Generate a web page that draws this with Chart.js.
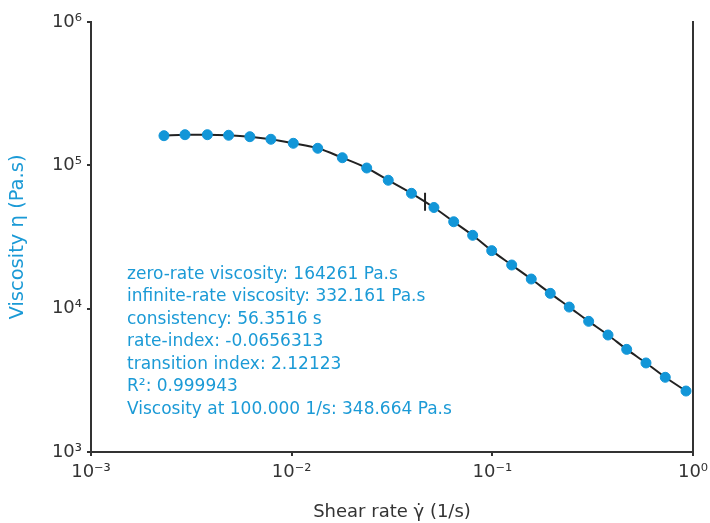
<!DOCTYPE html>
<html><head><meta charset="utf-8">
<script src="https://cdn.jsdelivr.net/npm/chart.js@4"></script>
<style>html,body{margin:0;padding:0;background:#fff}#wrap{width:710px;height:523px}</style>
</head><body><div id="wrap"><canvas id="c" width="710" height="523"></canvas></div>
<script>
const shearRate = [0.00231,0.00294,0.00380,0.00485,0.00619,0.00788,0.01019,0.01349,0.01788,0.02366,0.03029,0.03953,0.05117,0.06418,0.07980,0.09928,0.1249,0.1563,0.1944,0.2417,0.302,0.3771,0.4673,0.5831,0.7275,0.9229];
const viscosity = [161000,163600,163600,162100,158400,152000,142500,131500,113000,95800,78700,63800,50800,40400,32500,25400,20170,16100,12790,10260,8160,6550,5200,4180,3320,2663];
const markerRate = [0.0462];
const markerViscosity = [55700];
const xTickValues = [0.001,0.01,0.1,1];
const xTickLabels = ['10⁻³','10⁻²','10⁻¹','10⁰'];
const yTickValues = [1e3,1e4,1e5,1e6];
const yTickLabels = ['10³','10⁴','10⁵','10⁶'];
const fitText = [
  'zero-rate viscosity: 164261 Pa.s',
  'infinite-rate viscosity: 332.161 Pa.s',
  'consistency: 56.3516 s',
  'rate-index: -0.0656313',
  'transition index: 2.12123',
  'R²: 0.999943',
  'Viscosity at 100.000 1/s: 348.664 Pa.s'
];

const FONT = '"DejaVu Sans", sans-serif';
const BLUE = '#1296d8';
const TEXTBLUE = '#1b9ad6';
const DARK = '#333333';

const textPlugin = {
  id: 'fitText',
  afterDatasetsDraw(chart) {
    const ctx = chart.ctx;
    ctx.save();
    ctx.fillStyle = TEXTBLUE;
    ctx.font = '17px ' + FONT;
    ctx.textAlign = 'left';
    ctx.textBaseline = 'alphabetic';
    fitText.forEach((t, i) => ctx.fillText(t, 127, 278.5 + i * 22.5));
    ctx.restore();
  }
};

new Chart(document.getElementById('c'), {
  type: 'scatter',
  data: {
    datasets: [
      {
        data: shearRate.map((x, i) => ({x, y: viscosity[i]})),
        showLine: true,
        borderColor: '#222',
        borderWidth: 2,
        cubicInterpolationMode: 'monotone',
        pointRadius: 5,
        pointHoverRadius: 5,
        pointBackgroundColor: BLUE,
        pointBorderColor: BLUE,
        pointBorderWidth: 1,
        order: 2
      },
      {
        data: markerRate.map((x, i) => ({x, y: markerViscosity[i]})),
        showLine: false,
        pointStyle: 'line',
        rotation: 90,
        pointRadius: 9,
        borderColor: '#222',
        pointBorderColor: '#222',
        pointBorderWidth: 2,
        order: 1
      }
    ]
  },
  options: {
    responsive: false,
    animation: false,
    devicePixelRatio: 1,
    layout: { padding: { left: 0, right: 0, top: 22, bottom: 0 } },
    plugins: { legend: { display: false }, tooltip: { enabled: false } },
    scales: {
      x: {
        type: 'logarithmic', min: 0.001, max: 1,
        afterBuildTicks: s => { s.ticks = xTickValues.map(v => ({value: v})); },
        afterFit: s => { s.height = 71; s.paddingLeft = 0; s.paddingRight = 0; },
        ticks: {
          color: DARK, font: { family: FONT, size: 18 }, padding: 6, maxRotation: 0, autoSkip: false,
          callback: (v) => { const i = xTickValues.indexOf(v); return i >= 0 ? xTickLabels[i] : ''; }
        },
        grid: { drawOnChartArea: false, drawTicks: true, tickLength: 4, color: DARK, lineWidth: 2 },
        border: { display: true, color: DARK, width: 2 },
        title: { display: true, text: 'Shear rate γ̇ (1/s)', color: DARK, font: { family: FONT, size: 18 }, padding: { top: 0, bottom: 0 } }
      },
      y: {
        type: 'logarithmic', min: 1000, max: 1000000,
        afterBuildTicks: s => { s.ticks = yTickValues.map(v => ({value: v})); },
        afterFit: s => { s.width = 91; s.paddingTop = 0; s.paddingBottom = 0; },
        ticks: {
          color: DARK, font: { family: FONT, size: 18 }, padding: 5, autoSkip: false,
          callback: (v) => { const i = yTickValues.indexOf(v); return i >= 0 ? yTickLabels[i] : ''; }
        },
        grid: { drawOnChartArea: false, drawTicks: true, tickLength: 4, color: DARK, lineWidth: 2 },
        border: { display: true, color: DARK, width: 2 },
        title: { display: true, text: 'Viscosity η (Pa.s)', color: TEXTBLUE, font: { family: FONT, size: 19.5 }, padding: { top: 6, bottom: 0 } }
      },
      y2: {
        type: 'logarithmic', position: 'right', min: 1000, max: 1000000,
        afterFit: s => { s.width = 17; s.paddingTop = 0; s.paddingBottom = 0; },
        ticks: { display: false },
        grid: { display: false, drawOnChartArea: false },
        border: { display: true, color: DARK, width: 2 }
      }
    }
  },
  plugins: [textPlugin]
});
</script>
</body></html>
